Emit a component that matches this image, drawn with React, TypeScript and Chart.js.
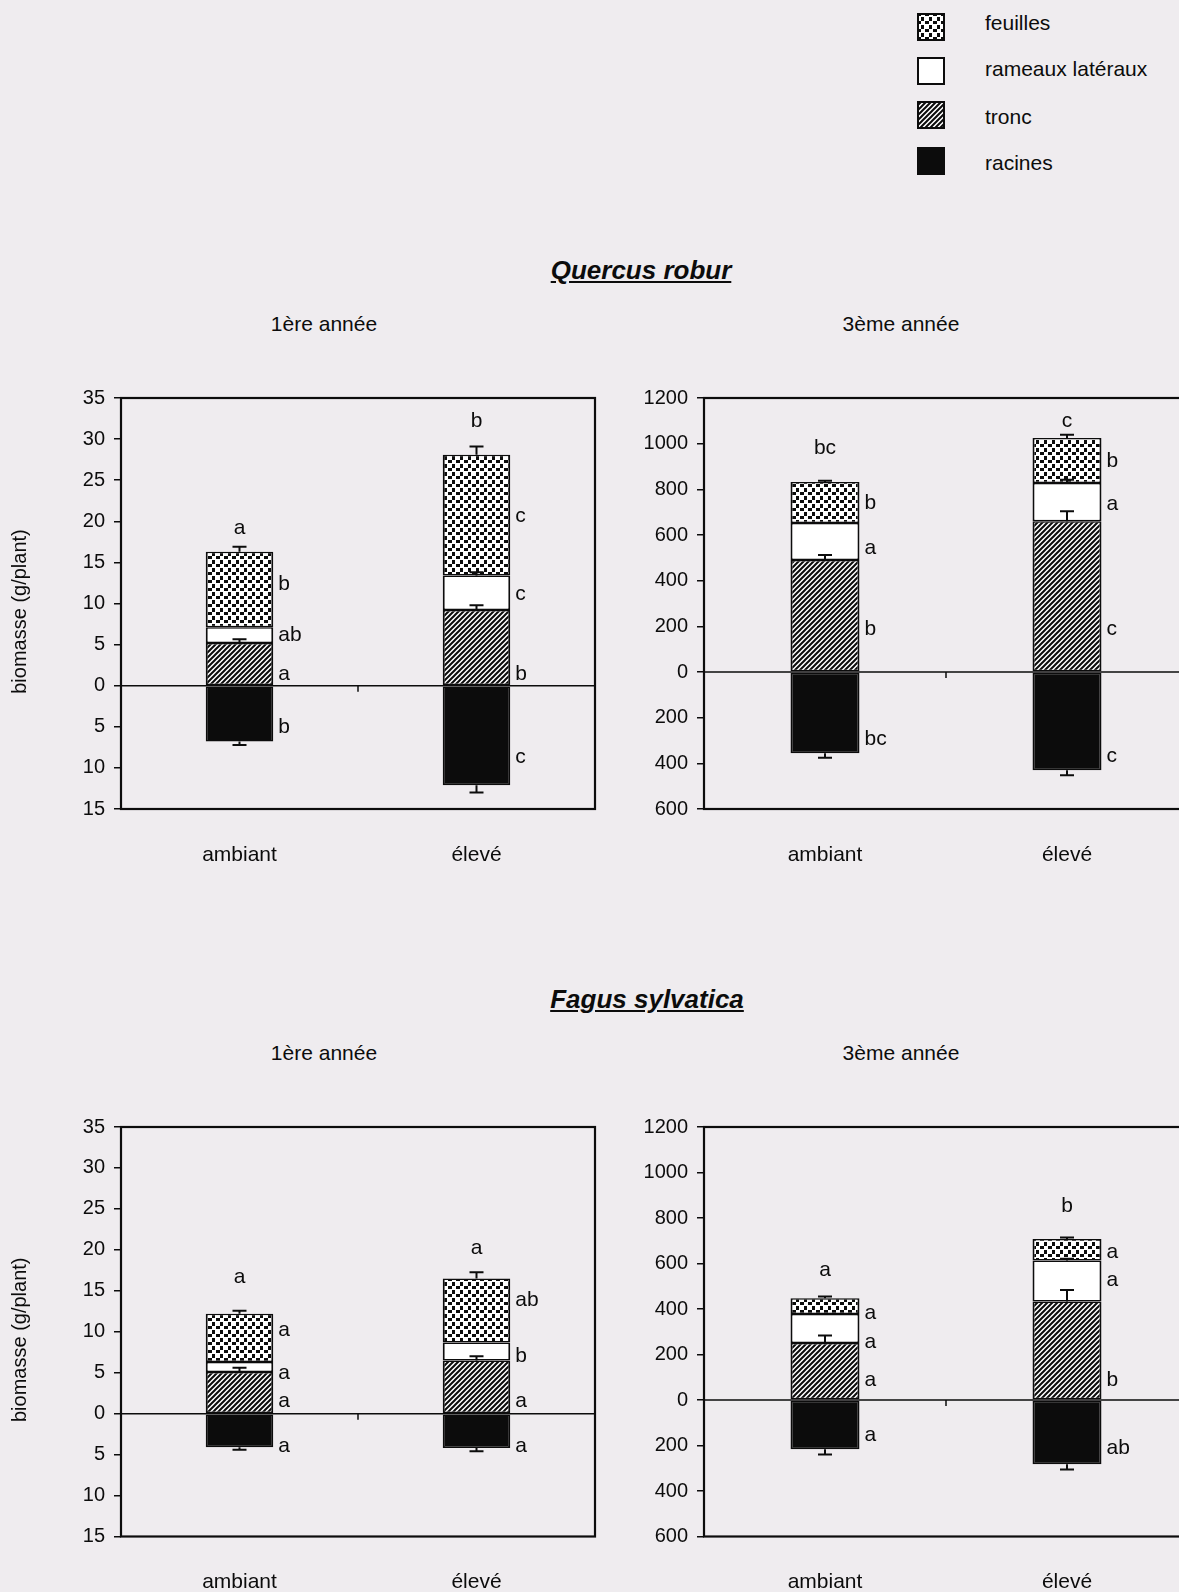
import React, { useEffect, useRef } from 'react';
import { Chart, registerables } from 'chart.js';

Chart.register(...registerables);

const FONT = '"Liberation Sans", Arial, Helvetica, sans-serif';
const INK = '#0c0c0c';
const PAPER = '#efecef';

const categories = ['ambiant', 'élevé'];
const legendNames = ['feuilles', 'rameaux latéraux', 'tronc', 'racines'];

// ---------- Quercus robur, 1ère année (g/plant) ----------
const qr1Racines = [6.8, 12.1];
const qr1Tronc = [5.2, 9.2];
const qr1Rameaux = [1.9, 4.2];
const qr1Feuilles = [9.2, 14.7];
const qr1ErrRacines = [0.4, 0.9];
const qr1ErrTronc = [0.45, 0.6];
const qr1ErrRameaux = [0, 0.4];
const qr1ErrFeuilles = [0.6, 1.0];
const qr1TotalLetters = ['a', 'b'];
const qr1TotalLetterY = [19.2, 32.2];
const qr1Letters = [['b', 'ab', 'a', 'b'], ['c', 'c', 'b', 'c']];
const qr1LetterY = [[12.3, 6.2, 1.4, -5.1], [20.6, 11.1, 1.4, -8.7]];

// ---------- Quercus robur, 3ème année (g/plant) ----------
const qr3Racines = [356, 430];
const qr3Tronc = [490, 660];
const qr3Rameaux = [163, 168];
const qr3Feuilles = [179, 197];
const qr3ErrRacines = [19, 22];
const qr3ErrTronc = [22, 44];
const qr3ErrRameaux = [0, 14];
const qr3ErrFeuilles = [6, 14];
const qr3TotalLetters = ['bc', 'c'];
const qr3TotalLetterY = [978, 1098];
const qr3Letters = [['b', 'a', 'b', 'bc'], ['b', 'a', 'c', 'c']];
const qr3LetterY = [[740, 544, 187, -294], [923, 736, 187, -367]];

// ---------- Fagus sylvatica, 1ère année (g/plant) ----------
const fs1Racines = [4.1, 4.2];
const fs1Tronc = [5.1, 6.5];
const fs1Rameaux = [1.2, 2.2];
const fs1Feuilles = [5.9, 7.8];
const fs1ErrRacines = [0.3, 0.4];
const fs1ErrTronc = [0.5, 0.5];
const fs1ErrRameaux = [0, 0];
const fs1ErrFeuilles = [0.35, 0.75];
const fs1TotalLetters = ['a', 'a'];
const fs1TotalLetterY = [16.7, 20.2];
const fs1Letters = [['a', 'a', 'a', 'a'], ['ab', 'b', 'a', 'a']];
const fs1LetterY = [[10.2, 4.95, 1.5, -4.0], [13.9, 7.0, 1.5, -4.0]];

// ---------- Fagus sylvatica, 3ème année (g/plant) ----------
const fs3Racines = [216, 282];
const fs3Tronc = [251, 433];
const fs3Rameaux = [127, 180];
const fs3Feuilles = [69, 95];
const fs3ErrRacines = [24, 24];
const fs3ErrTronc = [32, 51];
const fs3ErrRameaux = [0, 8];
const fs3ErrFeuilles = [8, 6];
const fs3TotalLetters = ['a', 'b'];
const fs3TotalLetterY = [569, 851];
const fs3Letters = [['a', 'a', 'a', 'a'], ['a', 'a', 'b', 'ab']];
const fs3LetterY = [[381, 254, 85, -153], [650, 525, 89, -211]];

// y-axis ranges
const yearOneMin = -15;
const yearOneMax = 35;
const yearOneStep = 5;
const yearThreeMin = -600;
const yearThreeMax = 1200;
const yearThreeStep = 200;

type PanelData = {
  racines: number[]; tronc: number[]; rameaux: number[]; feuilles: number[];
  errRacines: number[]; errTronc: number[]; errRameaux: number[]; errFeuilles: number[];
  totalLetters: string[]; totalLetterY: number[];
  letters: string[][]; letterY: number[][];
  min: number; max: number; step: number; yTitle: boolean;
};

function makeFill(kind: string): any {
  if (kind === 'white') return '#ffffff';
  if (kind === 'black') return INK;
  const c = document.createElement('canvas');
  const ctx = c.getContext('2d')!;
  if (kind === 'hatch') {
    c.width = 5; c.height = 5;
    ctx.fillStyle = '#ffffff';
    ctx.fillRect(0, 0, 5, 5);
    ctx.strokeStyle = INK;
    ctx.lineWidth = 2;
    ctx.beginPath();
    for (const o of [-5, 0, 5]) {
      ctx.moveTo(o - 1, 6);
      ctx.lineTo(o + 6, -1);
    }
    ctx.stroke();
  } else {
    c.width = 8; c.height = 8;
    ctx.fillStyle = '#ffffff';
    ctx.fillRect(0, 0, 8, 8);
    ctx.fillStyle = INK;
    ctx.fillRect(0, 0, 4, 3);
    ctx.fillRect(4, 4, 3, 4);
  }
  return ctx.createPattern(c, 'repeat');
}

function ChartPanel(props: {
  data: PanelData; left: number; top: number; width: number; height: number;
  axisWidth: number; padTop: number; padBottom: number; padRight: number;
}) {
  const ref = useRef<HTMLCanvasElement | null>(null);
  useEffect(() => {
    const canvas = ref.current!;
    const d = props.data;
    const overlay = {
      id: 'overlay',
      beforeDatasetsDraw(chart: any) {
        const ctx = chart.ctx;
        const { left, right } = chart.chartArea;
        const ys = chart.scales.y;
        const xs = chart.scales.x;
        const y0 = ys.getPixelForValue(0);
        ctx.save();
        ctx.strokeStyle = INK;
        ctx.lineWidth = 1.5;
        ctx.beginPath();
        ctx.moveTo(left, y0);
        ctx.lineTo(right, y0);
        const xm = xs.getPixelForValue(0.5);
        ctx.moveTo(xm, y0);
        ctx.lineTo(xm, y0 + 6);
        ctx.stroke();
        ctx.restore();
      },
      afterDatasetsDraw(chart: any) {
        const ctx = chart.ctx;
        const { left, right, top, bottom } = chart.chartArea;
        const ys = chart.scales.y;
        const xs = chart.scales.x;
        ctx.save();
        // error bars
        const segs = [d.racines, d.tronc, d.rameaux, d.feuilles];
        const errs = [d.errRacines, d.errTronc, d.errRameaux, d.errFeuilles];
        ctx.strokeStyle = INK;
        ctx.lineWidth = 2;
        for (let j = 0; j < categories.length; j++) {
          let cum = 0;
          for (let i = 0; i < 4; i++) {
            let endVal: number, errVal: number;
            if (i === 0) {
              endVal = -segs[0][j];
              errVal = endVal - errs[0][j];
            } else {
              cum += segs[i][j];
              endVal = cum;
              errVal = cum + errs[i][j];
            }
            if (!errs[i][j]) continue;
            const x = xs.getPixelForValue(j);
            const ya = ys.getPixelForValue(endVal);
            const yb = ys.getPixelForValue(errVal);
            ctx.beginPath();
            ctx.moveTo(x, ya);
            ctx.lineTo(x, yb);
            ctx.moveTo(x - 7, yb);
            ctx.lineTo(x + 7, yb);
            ctx.stroke();
          }
        }
        // frame
        ctx.lineWidth = 2.2;
        ctx.strokeRect(left, top, right - left, bottom - top);
        // letters
        ctx.fillStyle = INK;
        ctx.font = `21px ${FONT}`;
        ctx.textBaseline = 'middle';
        const meta = chart.getDatasetMeta(3);
        for (let j = 0; j < categories.length; j++) {
          const el = meta.data[j];
          const x = el.x;
          const half = el.width / 2;
          ctx.textAlign = 'center';
          ctx.fillText(d.totalLetters[j], x, ys.getPixelForValue(d.totalLetterY[j]));
          ctx.textAlign = 'left';
          for (let k = 0; k < 4; k++) {
            ctx.fillText(d.letters[j][k], x + half + 5, ys.getPixelForValue(d.letterY[j][k]));
          }
          ctx.textAlign = 'center';
          ctx.fillText(categories[j], x, bottom + 46);
        }
        if (d.yTitle) {
          ctx.save();
          ctx.translate(20, (top + bottom) / 2 + 8);
          ctx.rotate(-Math.PI / 2);
          ctx.font = `20px ${FONT}`;
          ctx.textAlign = 'center';
          ctx.textBaseline = 'middle';
          ctx.fillText('biomasse (g/plant)', 0, 0);
          ctx.restore();
        }
        ctx.restore();
      },
    };
    const chart = new Chart(canvas, {
      type: 'bar',
      data: {
        labels: categories,
        datasets: [
          { label: 'racines', data: d.racines.map((v) => -v), backgroundColor: makeFill('black') },
          { label: 'tronc', data: d.tronc, backgroundColor: makeFill('hatch') },
          { label: 'rameaux latéraux', data: d.rameaux, backgroundColor: makeFill('white') },
          { label: 'feuilles', data: d.feuilles, backgroundColor: makeFill('dots') },
        ].map((ds) => ({
          ...ds,
          borderColor: INK,
          borderWidth: { top: 1.5, bottom: 1.5, left: 2, right: 2 },
          borderSkipped: false,
          categoryPercentage: 1,
          barPercentage: 0.285,
        })),
      },
      options: {
        animation: false,
        responsive: false,
        maintainAspectRatio: false,
        devicePixelRatio: 1,
        layout: { padding: { top: props.padTop, bottom: props.padBottom, left: 0, right: props.padRight } },
        plugins: { legend: { display: false }, tooltip: { enabled: false }, title: { display: false } },
        scales: {
          x: { stacked: true, display: false },
          y: {
            stacked: true,
            min: d.min,
            max: d.max,
            ticks: {
              stepSize: d.step,
              callback: (v: any) => String(Math.abs(Number(v))),
              font: { size: 20, family: FONT },
              color: INK,
              padding: 9,
            },
            grid: { drawOnChartArea: false, drawTicks: true, tickLength: 7, color: INK, lineWidth: 1.5 },
            border: { display: false },
            afterFit: (s: any) => {
              s.width = props.axisWidth;
              s.paddingTop = 0;
              s.paddingBottom = 0;
            },
          },
        },
      } as any,
      plugins: [overlay],
    });
    return () => chart.destroy();
  }, []);
  return (
    <canvas
      ref={ref}
      width={props.width}
      height={props.height}
      style={{ position: 'absolute', left: props.left, top: props.top, width: props.width, height: props.height, display: 'block' }}
    />
  );
}

function Swatch(props: { kind: string; top: number }) {
  const ref = useRef<HTMLCanvasElement | null>(null);
  useEffect(() => {
    const c = ref.current!;
    const ctx = c.getContext('2d')!;
    ctx.fillStyle = makeFill(props.kind);
    ctx.fillRect(0, 0, c.width, c.height);
    ctx.strokeStyle = INK;
    ctx.lineWidth = 2;
    ctx.strokeRect(1, 1, c.width - 2, c.height - 2);
  }, []);
  return <canvas ref={ref} width={28} height={28} style={{ position: 'absolute', left: 917, top: props.top, display: 'block' }} />;
}

function Text(props: { x: number; y: number; size: number; children: any; style?: any }) {
  return (
    <div
      style={{
        position: 'absolute',
        left: props.x,
        top: props.y,
        transform: 'translate(-50%, -50%)',
        fontSize: props.size,
        lineHeight: 1,
        whiteSpace: 'nowrap',
        ...(props.style || {}),
      }}
    >
      {props.children}
    </div>
  );
}

const panelQ1: PanelData = {
  racines: qr1Racines, tronc: qr1Tronc, rameaux: qr1Rameaux, feuilles: qr1Feuilles,
  errRacines: qr1ErrRacines, errTronc: qr1ErrTronc, errRameaux: qr1ErrRameaux, errFeuilles: qr1ErrFeuilles,
  totalLetters: qr1TotalLetters, totalLetterY: qr1TotalLetterY, letters: qr1Letters, letterY: qr1LetterY,
  min: yearOneMin, max: yearOneMax, step: yearOneStep, yTitle: true,
};
const panelQ3: PanelData = {
  racines: qr3Racines, tronc: qr3Tronc, rameaux: qr3Rameaux, feuilles: qr3Feuilles,
  errRacines: qr3ErrRacines, errTronc: qr3ErrTronc, errRameaux: qr3ErrRameaux, errFeuilles: qr3ErrFeuilles,
  totalLetters: qr3TotalLetters, totalLetterY: qr3TotalLetterY, letters: qr3Letters, letterY: qr3LetterY,
  min: yearThreeMin, max: yearThreeMax, step: yearThreeStep, yTitle: false,
};
const panelF1: PanelData = {
  racines: fs1Racines, tronc: fs1Tronc, rameaux: fs1Rameaux, feuilles: fs1Feuilles,
  errRacines: fs1ErrRacines, errTronc: fs1ErrTronc, errRameaux: fs1ErrRameaux, errFeuilles: fs1ErrFeuilles,
  totalLetters: fs1TotalLetters, totalLetterY: fs1TotalLetterY, letters: fs1Letters, letterY: fs1LetterY,
  min: yearOneMin, max: yearOneMax, step: yearOneStep, yTitle: true,
};
const panelF3: PanelData = {
  racines: fs3Racines, tronc: fs3Tronc, rameaux: fs3Rameaux, feuilles: fs3Feuilles,
  errRacines: fs3ErrRacines, errTronc: fs3ErrTronc, errRameaux: fs3ErrRameaux, errFeuilles: fs3ErrFeuilles,
  totalLetters: fs3TotalLetters, totalLetterY: fs3TotalLetterY, letters: fs3Letters, letterY: fs3LetterY,
  min: yearThreeMin, max: yearThreeMax, step: yearThreeStep, yTitle: false,
};

export default function App() {
  const legendKinds = ['dots', 'white', 'hatch', 'black'];
  const swatchTops = [13, 57, 101, 147];
  const legendTextY = [22, 68, 116, 162];
  return (
    <div
      style={{
        position: 'absolute', left: 0, top: 0, width: 1179, height: 1592, overflow: 'hidden',
        background: PAPER, fontFamily: FONT, color: INK,
      }}
    >
      {legendKinds.map((k, i) => <Swatch key={k} kind={k} top={swatchTops[i]} />)}
      {legendNames.map((n, i) => (
        <div key={n} style={{ position: 'absolute', left: 985, top: legendTextY[i], transform: 'translateY(-50%)', fontSize: 21, lineHeight: 1, whiteSpace: 'nowrap' }}>{n}</div>
      ))}

      <Text x={641} y={270} size={26} style={{ fontWeight: 'bold', fontStyle: 'italic', textDecoration: 'underline' }}>Quercus robur</Text>
      <Text x={324} y={323} size={21}>1ère année</Text>
      <Text x={901} y={323} size={21}>3ème année</Text>

      <Text x={647} y={999} size={26} style={{ fontWeight: 'bold', fontStyle: 'italic', textDecoration: 'underline' }}>Fagus sylvatica</Text>
      <Text x={324} y={1052} size={21}>1ère année</Text>
      <Text x={901} y={1052} size={21}>3ème année</Text>

      <ChartPanel data={panelQ1} left={0} top={380} width={600} height={500} axisWidth={121} padTop={18} padBottom={71} padRight={5} />
      <ChartPanel data={panelQ3} left={600} top={380} width={600} height={500} axisWidth={104} padTop={18} padBottom={71} padRight={12} />
      <ChartPanel data={panelF1} left={0} top={1110} width={600} height={482} axisWidth={121} padTop={17} padBottom={55.5} padRight={5} />
      <ChartPanel data={panelF3} left={600} top={1110} width={600} height={482} axisWidth={104} padTop={17} padBottom={55.5} padRight={12} />
    </div>
  );
}
